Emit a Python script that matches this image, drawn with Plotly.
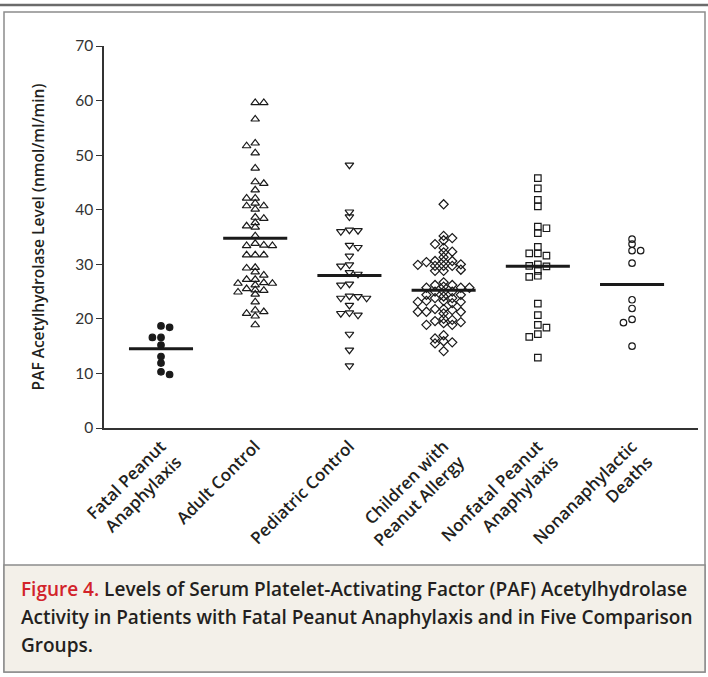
import plotly.graph_objects as go

# ---------------- data ----------------
categories = ["Fatal Peanut<br>Anaphylaxis", "Adult Control", "Pediatric Control",
              "Children with<br>Peanut Allergy", "Nonfatal Peanut<br>Anaphylaxis",
              "Nonanaphylactic<br>Deaths"]

fatal_peanut = [18.7, 18.45, 16.6, 16.6, 15.2, 13.1, 11.9, 10.3, 9.8]

adult_control = [59.6, 59.6, 56.6, 52.2, 51.7, 50.4, 47.6, 45.1, 44.8, 43.6, 42.1, 42.1,
                 41.2, 40.7, 40.7, 40.1, 38.6, 38.4, 37.6, 37.0, 36.8, 35.2, 33.8, 33.5,
                 33.4, 33.4, 31.7, 31.7, 31.7, 29.4, 29.3, 28.6, 28.0, 27.2, 27.2, 26.6,
                 26.5, 26.5, 26.2, 25.5, 25.3, 25.2, 24.9, 24.5, 23.1, 21.6, 21.3, 21.0,
                 20.5, 18.9]

pediatric_control = [48.2, 39.6, 38.7, 36.3, 36.2, 36.0, 33.5, 33.1, 31.5, 29.9, 29.7,
                     28.5, 28.2, 26.4, 26.2, 24.2, 24.1, 23.8, 23.8, 22.5, 21.1, 21.0,
                     20.7, 17.2, 14.3, 11.4]

children_allergy = [41.0, 35.2, 34.8, 34.4, 33.7, 33.0, 32.3, 32.2, 31.3,
                    30.6, 30.6, 30.5, 30.4, 30.0, 29.9, 29.7, 29.7, 29.7,
                    29.0, 28.8, 28.8,
                    26.7, 26.2, 26.2, 25.9, 25.7, 25.7, 25.7,
                    25.0, 25.0, 25.0, 24.4, 24.4, 24.1,
                    23.8, 23.8, 23.3, 23.3, 23.1, 23.1, 22.9,
                    21.8, 21.8, 21.6, 21.3, 21.3, 21.3, 21.0,
                    20.0, 19.8, 19.6, 19.4, 19.2, 18.9, 18.9,
                    17.0, 16.4, 15.9, 15.7, 15.5, 14.1]

nonfatal_peanut = [45.8, 43.9, 41.8, 40.6, 36.9, 36.6, 35.7, 33.2, 32.0, 32.0, 31.6,
                   30.0, 29.7, 29.6, 28.8, 27.9, 27.7, 22.8, 20.7, 18.9, 18.4, 17.2,
                   16.7, 12.9]

nonanaphylactic = [34.6, 33.7, 32.5, 32.5, 30.2, 23.5, 21.9, 19.9, 19.3, 15.0]

y_ticks = [0, 10, 20, 30, 40, 50, 60, 70]

groups = [fatal_peanut, adult_control, pediatric_control, children_allergy,
          nonfatal_peanut, nonanaphylactic]
symbols = ["circle", "triangle-up-open", "triangle-down-open", "diamond-open",
           "square-open", "circle-open"]
sizes = [6.5, 7.5, 7.5, 7, 6.5, 6.5]

# ---------------- geometry ----------------
W, H = 708, 677
ML, MR, MT, MB = 104, 10, 46, 249
PW, PH = W - ML - MR, H - MT - MB
XR = [-0.605, 5.70]
YR = [0, 70]
ux = PW / (XR[1] - XR[0])   # px per x unit
uy = PH / (YR[1] - YR[0])   # px per y unit


def swarm(vals, step_px=8.6, h_px=4.0):
    """simple beeswarm offsets (in x data units) computed from values"""
    placed = []
    offs = []
    pref = 1
    for v in vals:
        yp = v * uy
        k_found = 0
        for k in range(0, 30):
            cands = [0] if k == 0 else [k * pref, -k * pref]
            ok = None
            for c in cands:
                xp = c * step_px
                if all(not (abs(yp - py) < h_px and abs(xp - px) < step_px * 0.95)
                       for px, py in placed):
                    ok = c
                    break
            if ok is not None:
                k_found = ok
                break
        if k_found != 0:
            pref = -pref
        placed.append((k_found * step_px, yp))
        offs.append(k_found * step_px / ux)
    return offs


def px2paper_x(px):
    return (px - ML) / PW


def px2paper_y(py):
    return (H - MB - py) / PH


fig = go.Figure()

for i, vals in enumerate(groups):
    offs = swarm(vals)
    fig.add_trace(go.Scatter(
        x=[i + o for o in offs], y=vals, mode="markers",
        marker=dict(symbol=symbols[i], size=sizes[i], color="#1a1a1a",
                    line=dict(color="#1a1a1a", width=1.2)),
        showlegend=False, hoverinfo="y"))
    m = sum(vals) / len(vals)
    fig.add_trace(go.Scatter(
        x=[i - 0.34, i + 0.34], y=[m, m], mode="lines",
        line=dict(color="#1a1a1a", width=3), showlegend=False, hoverinfo="skip"))

shapes = [
    # top rule
    dict(type="line", xref="paper", yref="paper",
         x0=px2paper_x(0), x1=px2paper_x(708), y0=px2paper_y(5), y1=px2paper_y(5),
         line=dict(color="#6b6b6b", width=2.5), layer="below"),
    # outer frame
    dict(type="rect", xref="paper", yref="paper",
         x0=px2paper_x(4), x1=px2paper_x(705), y0=px2paper_y(12), y1=px2paper_y(672),
         line=dict(color="#8c8c8c", width=1.5), fillcolor="rgba(0,0,0,0)", layer="below"),
    # caption box
    dict(type="rect", xref="paper", yref="paper",
         x0=px2paper_x(4), x1=px2paper_x(705), y0=px2paper_y(565), y1=px2paper_y(672),
         line=dict(color="#8c8c8c", width=1.5), fillcolor="#f3f0e9", layer="below"),
]

cap_font = dict(family="Open Sans", size=19, color="#231f20", weight=600)
cap_lines = [
    "<span style='color:#d2232a'>Figure 4.</span> Levels of Serum Platelet-Activating Factor (PAF) Acetylhydrolase",
    "Activity in Patients with Fatal Peanut Anaphylaxis and in Five Comparison",
    "Groups.",
]
cap_y = [589, 617, 645]
annotations = []
for t, yy in zip(cap_lines, cap_y):
    annotations.append(dict(text=t, xref="paper", yref="paper", x=px2paper_x(19),
                            y=px2paper_y(yy), xanchor="left", yanchor="middle",
                            showarrow=False, font=cap_font, align="left"))

fig.update_layout(
    width=W, height=H,
    margin=dict(l=ML, r=MR, t=MT, b=MB, pad=0),
    paper_bgcolor="white", plot_bgcolor="white",
    shapes=shapes, annotations=annotations,
    xaxis=dict(range=XR, tickvals=list(range(len(categories))), ticktext=categories,
               tickangle=-45, showgrid=False, zeroline=False, showline=True,
               linecolor="#333333", linewidth=1.5, ticks="",
               tickfont=dict(family="Open Sans", size=17, color="#231f20", weight=600)),
    yaxis=dict(range=YR, tickvals=y_ticks, showgrid=False, zeroline=False,
               showline=True, linecolor="#333333", linewidth=1.5, ticks="outside",
               ticklen=6, tickwidth=1.3, tickcolor="#333333",
               tickfont=dict(family="Lato", size=15.5, color="#333333"),
               title=dict(text="PAF Acetylhydrolase Level (nmol/ml/min)", standoff=27,
                          font=dict(family="Open Sans", size=15.5, color="#231f20",
                                    weight=600))),
)

fig.write_html("out.html", config={"displayModeBar": False},
               post_script="document.body.style.margin='0';")
